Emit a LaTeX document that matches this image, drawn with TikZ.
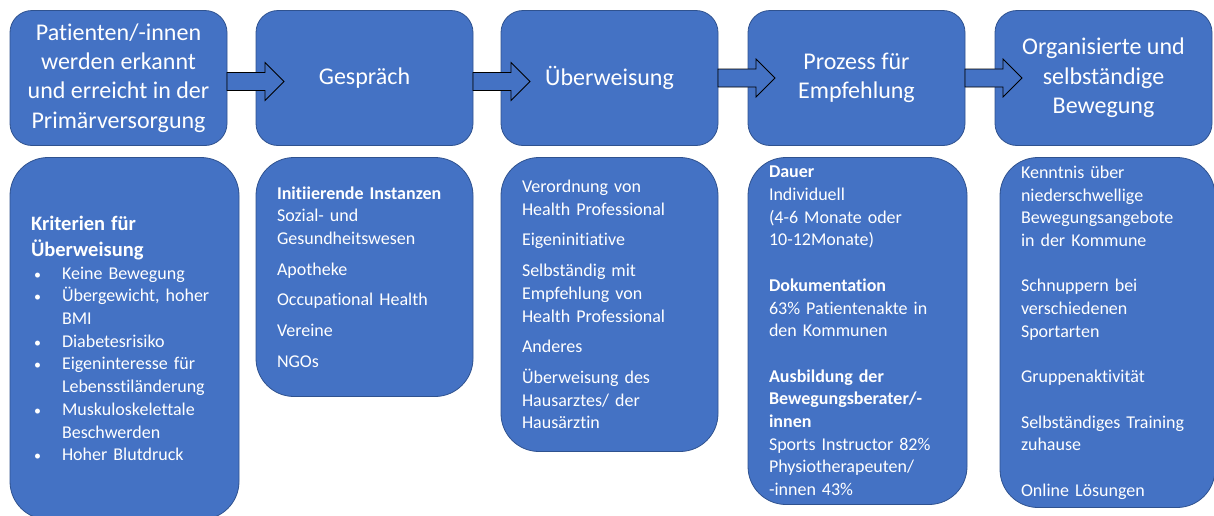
\documentclass[tikz,border=0pt]{standalone}
\usepackage{fontspec}
\setmainfont{Carlito}[Ligatures=NoCommon]
\usepackage{tikz}
\usetikzlibrary{positioning,calc}
\usepackage{xcolor}
\definecolor{officeblue}{HTML}{4472C4}
\definecolor{officeline}{HTML}{2F528F}

\newcommand{\bul}{\makebox[31pt][l]{\hspace{3pt}{\fontsize{14}{14}\selectfont\textbullet}}}
\newcommand{\hang}{\hspace*{31pt}}

\begin{document}
\begin{tikzpicture}[x=1pt,y=1pt,
  stepbox/.style={draw=officeline, line width=0.8pt, fill=officeblue, text=white, rounded corners=22pt, outer sep=0pt, minimum width=217pt, minimum height=135pt, align=center, font=\fontsize{24}{29.3}\selectfont},
  infobox/.style={draw=officeline, line width=0.8pt, fill=officeblue, text=white, rounded corners=38pt, outer sep=0pt, inner xsep=21pt, inner ysep=0pt, align=left, font=\fontsize{18}{22.7}\selectfont},
  blockarrow/.style={draw=black, line width=0.8pt, fill=officeblue}]
\useasboundingbox (0,0) rectangle (1214,-515);
\clip (0,0) rectangle (1214,-515);

% Steps
\node[stepbox] (p1) at (118.5,-78) {Patienten/-innen\\werden erkannt\\und erreicht in der\\Primärversorgung};
\node[stepbox, right=29pt of p1] (p2) {Gespräch};
\node[stepbox, right=28pt of p2] (p3) {Überweisung};
\node[stepbox, right=30pt of p3] (p4) {Prozess für\\Empfehlung};
\node[stepbox, right=30pt of p4] (p5) {Organisierte und\\selbständige\\Bewegung};

% Details below each step
\node[infobox, text width=187pt, minimum height=362pt, below=12pt of p1.south west, anchor=north west] (d1) {%
{\fontsize{20.5}{26}\selectfont\bfseries Kriterien für\\Überweisung\par}
\bul Keine Bewegung\\
\bul Übergewicht, hoher\\
\hang BMI\\
\bul Diabetesrisiko\\
\bul Eigeninteresse für\\
\hang Lebensstiländerung\\
\bul Muskuloskelettale\\
\hang Beschwerden\\
\bul Hoher Blutdruck};
\node[infobox, text width=175pt, minimum height=239pt, below=12pt of p2.south west, anchor=north west] (d2) {%
\textbf{Initiierende Instanzen}\\
Sozial- und\\
Gesundheitswesen\\[8pt]
Apotheke\\[8pt]
Occupational Health\\[8pt]
Vereine\\[8pt]
NGOs};
\node[infobox, text width=175pt, minimum height=294pt, below=12pt of p3.south west, anchor=north west] (d3) {%
Verordnung von\\
Health Professional\\[8pt]
Eigeninitiative\\[8pt]
Selbständig mit\\
Empfehlung von\\
Health Professional\\[8pt]
Anderes\\[8pt]
Überweisung des\\
Hausarztes/ der\\
Hausärztin};
\node[infobox, text width=177pt, minimum height=347pt, below=12pt of p4.south west, anchor=north west] (d4) {%
\textbf{Dauer}\\
Individuell\\
(4-6 Monate oder\\
10-12Monate)\\[22.7pt]
\textbf{Dokumentation}\\
63\% Patientenakte in\\
den Kommunen\\[22.7pt]
\textbf{Ausbildung der}\\
\textbf{Bewegungsberater/-}\\
\textbf{innen}\\
Sports Instructor 82\%\\
Physiotherapeuten/\\
-innen 43\%};
\node[infobox, text width=173pt, minimum height=350pt, below=12pt of p5.south west, anchor=north west, xshift=5pt] (d5) {%
Kenntnis über\\
niederschwellige\\
Bewegungsangebote\\
in der Kommune\\[22.7pt]
Schnuppern bei\\
verschiedenen\\
Sportarten\\[22.7pt]
Gruppenaktivität\\[22.7pt]
Selbständiges Training\\
zuhause\\[22.7pt]
Online Lösungen};

% Arrows between steps
\foreach \a/\dy in {p1/-3.5,p2/-3.5,p3/0,p4/0}
  \draw[blockarrow] ($(\a.east)+(0,\dy+9)$) -- ++(38,0) -- ++(0,10) -- ++(19,-19) -- ++(-19,-19) -- ++(0,10) -- ++(-38,0) -- cycle;
\end{tikzpicture}
\end{document}
